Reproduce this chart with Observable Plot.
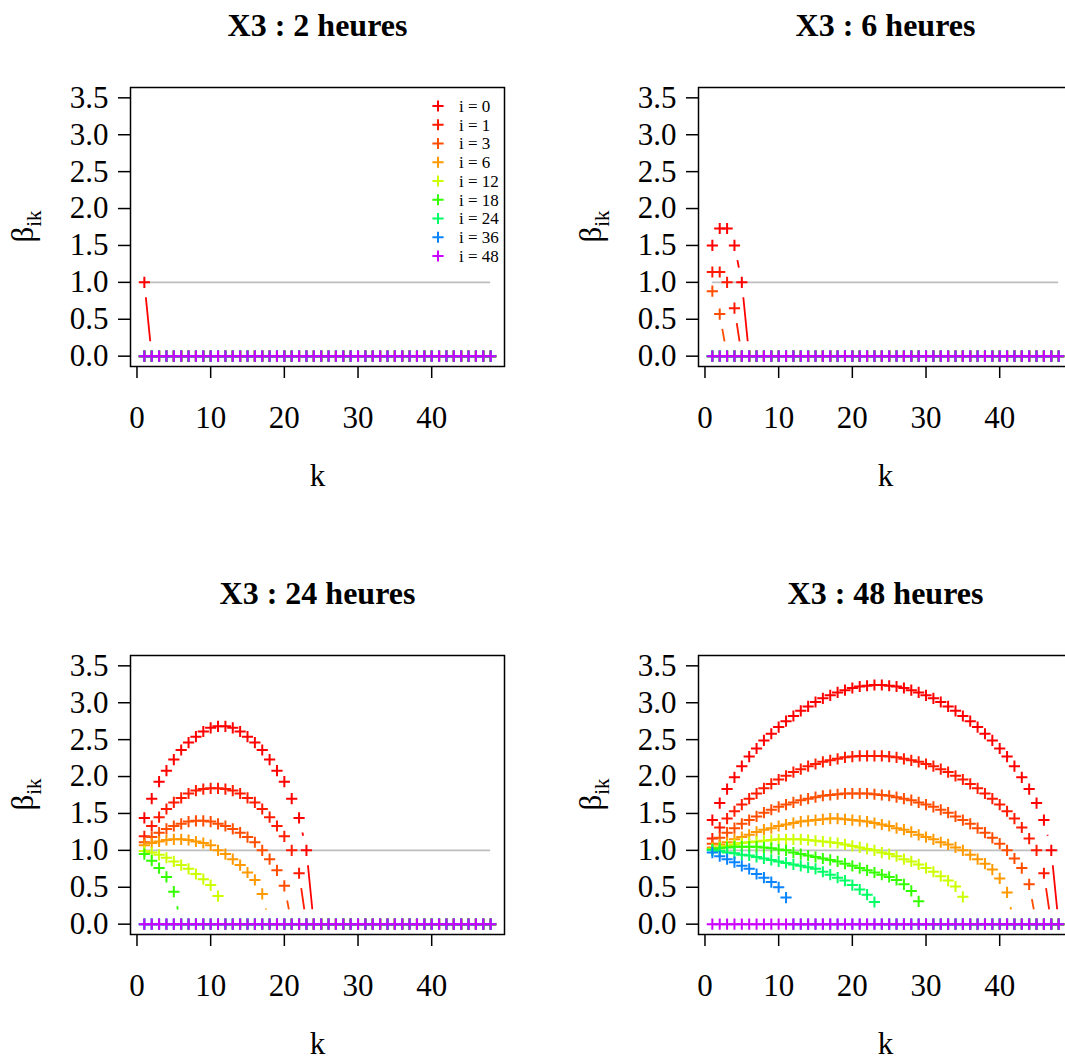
<!DOCTYPE html>
<html><head><meta charset="utf-8">
<script src="https://cdn.jsdelivr.net/npm/d3@7"></script>
<script src="https://cdn.jsdelivr.net/npm/@observablehq/plot@0.6"></script>
<style>
html,body{margin:0;padding:0;background:#fff;}
body{width:1065px;height:1058px;overflow:hidden;position:relative;}
#wrap{position:absolute;left:0;top:0;width:1136px;height:1136px;}
.panel{position:absolute;width:568px;height:568px;}
</style></head><body><div id="wrap"></div>
<script>
// ---------- data ----------
const ks = [1,2,3,4,5,6,7,8,9,10,11,12,13,14,15,16,17,18,19,20,21,22,23,24,25,26,27,28,29,30,31,32,33,34,35,36,37,38,39,40,41,42,43,44,45,46,47,48];
const xTicks = [0,10,20,30,40];
const yTicks = [0,0.5,1,1.5,2,2.5,3,3.5];
const iLabels = ["i = 0","i = 1","i = 3","i = 6","i = 12","i = 18","i = 24","i = 36","i = 48"];
const seriesColors = ["#FF0000","#FF1A00","#FF4D00","#FF9900","#CCFF00","#33FF00","#00FF66","#0A84FF","#CC00FF"];
const panelTitles = ["X3 : 2 heures","X3 : 6 heures","X3 : 24 heures","X3 : 48 heures"];
const refLine = 1;

const zeros48 = [0,0,0,0,0,0,0,0,0,0, 0,0,0,0,0,0,0,0,0,0, 0,0,0,0,0,0,0,0,0,0, 0,0,0,0,0,0,0,0,0,0, 0,0,0,0,0,0,0,0];

// 2 heures
const h2_i0 = [1.00, 0,0,0,0,0,0,0,0,0,0, 0,0,0,0,0,0,0,0,0,0, 0,0,0,0,0,0,0,0,0,0, 0,0,0,0,0,0,0,0,0,0, 0,0,0,0,0,0,0];

// 6 heures
const h6_i0 = [1.50,1.73,1.73,1.50,1.00, 0,0,0,0,0,0,0,0,0,0, 0,0,0,0,0,0,0,0,0,0, 0,0,0,0,0,0,0,0,0,0, 0,0,0,0,0,0,0,0,0,0, 0,0,0];
const h6_i1 = [1.14,1.14,1.00,0.65, 0,0,0,0,0,0,0,0,0,0, 0,0,0,0,0,0,0,0,0,0, 0,0,0,0,0,0,0,0,0,0, 0,0,0,0,0,0,0,0,0,0, 0,0,0,0];
const h6_i3 = [0.88,0.57, 0,0,0,0,0,0,0,0,0,0, 0,0,0,0,0,0,0,0,0,0, 0,0,0,0,0,0,0,0,0,0, 0,0,0,0,0,0,0,0,0,0, 0,0,0,0,0,0];

// 24 heures
const h24_i0 = [1.44,1.70,1.93,2.08,2.23,2.36,2.46,2.54,2.61,2.66,2.68,2.68,2.66,2.61,2.54,2.46,2.36,2.23,2.08,1.93,1.70,1.44,1.00,
  0,0,0,0,0,0,0,0,0,0, 0,0,0,0,0,0,0,0,0,0, 0,0,0,0,0];
const h24_i1 = [1.19,1.33,1.45,1.56,1.65,1.71,1.77,1.81,1.83,1.84,1.84,1.83,1.81,1.77,1.71,1.65,1.56,1.45,1.33,1.19,1.00,0.69,
  0,0,0,0,0,0,0,0,0,0, 0,0,0,0,0,0,0,0,0,0, 0,0,0,0,0,0];
const h24_i3 = [1.11,1.18,1.24,1.29,1.33,1.36,1.39,1.40,1.40,1.39,1.36,1.33,1.29,1.24,1.18,1.11,1.00,0.88,0.73,0.52,
  0,0,0,0,0,0,0,0,0,0, 0,0,0,0,0,0,0,0,0,0, 0,0,0,0,0,0,0,0];
const h24_i6 = [1.07,1.10,1.12,1.14,1.15,1.15,1.14,1.12,1.10,1.07,1.00,0.95,0.88,0.80,0.70,0.60,0.41,
  0,0,0,0,0,0,0,0,0,0, 0,0,0,0,0,0,0,0,0,0, 0,0,0,0,0,0,0,0,0,0, 0];
const h24_i12 = [0.99,0.97,0.94,0.90,0.85,0.80,0.75,0.68,0.61,0.53,0.38,
  0,0,0,0,0,0,0,0,0,0, 0,0,0,0,0,0,0,0,0,0, 0,0,0,0,0,0,0,0,0,0, 0,0,0,0,0,0,0];
const h24_i18 = [0.95,0.86,0.76,0.64,0.44,
  0,0,0,0,0,0,0,0,0,0, 0,0,0,0,0,0,0,0,0,0, 0,0,0,0,0,0,0,0,0,0, 0,0,0,0,0,0,0,0,0,0, 0,0,0];

// 48 heures
const h48_i0 = [1.41,1.64,1.83,1.99,2.14,2.27,2.38,2.49,2.58,2.67,2.75,2.82,2.89,2.95,3.01,3.06,3.10,3.14,3.17,3.20,3.22,3.23,3.24,
  3.24,3.23,3.22,3.20,3.17,3.14,3.10,3.06,3.01,2.95,2.89,2.82,2.75,2.67,2.58,2.49,2.38,2.27,2.14,1.99,1.83,1.64,1.41,1.00, 0];
const h48_i1 = [1.16,1.31,1.43,1.53,1.62,1.70,1.77,1.84,1.90,1.96,2.01,2.06,2.10,2.14,2.17,2.20,2.22,2.24,2.26,2.27,2.28,2.28,
  2.28,2.28,2.27,2.26,2.24,2.22,2.20,2.17,2.14,2.10,2.06,2.01,1.96,1.90,1.84,1.77,1.70,1.62,1.53,1.43,1.31,1.16,1.00,0.69, 0,0];
const h48_i3 = [1.09,1.17,1.24,1.30,1.36,1.41,1.46,1.51,1.55,1.59,1.62,1.65,1.68,1.70,1.72,1.74,1.75,1.76,1.77,1.77,
  1.77,1.77,1.76,1.75,1.74,1.72,1.70,1.68,1.65,1.62,1.59,1.55,1.51,1.46,1.41,1.36,1.30,1.24,1.17,1.09,1.00,0.89,0.76,0.54, 0,0,0,0];
const h48_i6 = [1.04,1.08,1.11,1.15,1.18,1.21,1.25,1.28,1.30,1.33,1.35,1.37,1.39,1.40,1.41,1.42,1.43,
  1.43,1.42,1.41,1.40,1.39,1.37,1.35,1.33,1.30,1.28,1.25,1.21,1.18,1.15,1.11,1.08,1.04,1.00,0.94,0.88,0.82,0.74,0.62,0.43, 0,0,0,0,0,0,0];
const h48_i12 = [1.02,1.04,1.06,1.08,1.10,1.11,1.12,1.13,1.14,1.15,1.15,
  1.15,1.15,1.14,1.13,1.12,1.11,1.10,1.08,1.06,1.04,1.02,1.00,0.97,0.95,0.92,0.88,0.85,0.81,0.76,0.71,0.65,0.59,0.51,0.37,
  0,0,0,0,0,0,0,0,0,0, 0,0,0];
const h48_i18 = [1.01,1.03,1.04,1.05,1.05,1.05,1.05,1.04,1.03,1.01,1.00,
  0.97,0.95,0.93,0.91,0.89,0.87,0.85,0.82,0.79,0.76,0.73,0.70,0.67,0.64,0.60,0.54,0.45,0.31,
  0,0,0,0,0,0,0,0,0,0, 0,0,0,0,0,0,0,0,0];
const h48_i24 = [1.00,0.99,0.97,0.96,0.94,0.93,0.91,0.89,0.87,0.85,0.83,0.81,0.79,0.77,0.75,0.71,0.67,0.63,0.59,0.53,0.47,0.40,0.30,
  0,0,0,0,0,0,0,0,0,0, 0,0,0,0,0,0,0,0,0,0, 0,0,0,0,0];
const h48_i36 = [0.97,0.92,0.88,0.84,0.79,0.75,0.68,0.63,0.57,0.50,0.36,
  0,0,0,0,0,0,0,0,0,0, 0,0,0,0,0,0,0,0,0,0, 0,0,0,0,0,0,0,0,0,0, 0,0,0,0,0,0,0];

const Z = zeros48;
const panelSeries = [
  [h2_i0, Z, Z, Z, Z, Z, Z, Z, Z],
  [h6_i0, h6_i1, h6_i3, Z, Z, Z, Z, Z, Z],
  [h24_i0, h24_i1, h24_i3, h24_i6, h24_i12, h24_i18, Z, Z, Z],
  [h48_i0, h48_i1, h48_i3, h48_i6, h48_i12, h48_i18, h48_i24, h48_i36, Z]
];
panelSeries.forEach((p, pi) => p.forEach((s, si) => { if (s.length !== 48) throw new Error("bad length panel " + pi + " series " + si + ": " + s.length); }));

// ---------- layout ----------
const W = 568, H = 568;
const ML = 130, MR = 64, MT = 87, MB = 202;
const XD = [-0.88, 49.88], YD = [-0.14, 3.64];
const sx = (W - ML - MR) / (XD[1] - XD[0]);
const sy = (H - MT - MB) / (YD[1] - YD[0]);
const GAP = 15; // R type="b" gap in px
const FONT = "Liberation Serif, Times New Roman, Times, serif";
const FS = 31;
const ARM = 5.6;
const SW = 2;
const plusSymbol = {draw(ctx) { ctx.moveTo(-ARM, 0); ctx.lineTo(ARM, 0); ctx.moveTo(0, -ARM); ctx.lineTo(0, ARM); }};

function segments(vals) {
  const out = [];
  for (let j = 0; j < vals.length - 1; j++) {
    const dk = ks[j + 1] - ks[j], dv = vals[j + 1] - vals[j];
    const L = Math.hypot(sx * dk, sy * dv);
    if (L > 2 * GAP) {
      const t = GAP / L;
      out.push({x1: ks[j] + t * dk, y1: vals[j] + t * dv, x2: ks[j + 1] - t * dk, y2: vals[j + 1] - t * dv});
    }
  }
  return out;
}

const wrap = document.getElementById("wrap");
panelSeries.forEach((series, pi) => {
  const marks = [
    Plot.ruleY([refLine], {x1: ks[0], x2: ks[ks.length - 1], stroke: "#BEBEBE", strokeWidth: 1.8})
  ];
  series.forEach((vals, si) => {
    const pts = ks.map((k, j) => ({k, v: vals[j]}));
    marks.push(Plot.link(segments(vals), {x1: "x1", y1: "y1", x2: "x2", y2: "y2", stroke: seriesColors[si], strokeWidth: 1.8}));
    marks.push(Plot.dot(pts, {x: "k", y: "v", symbol: plusSymbol, r: 4, fill: "none", stroke: seriesColors[si], strokeWidth: SW}));
  });
  marks.push(
    Plot.frame({stroke: "black", strokeWidth: 1.5}),
    Plot.axisY(yTicks, {tickSize: 12, tickPadding: 10, tickFormat: d3.format(".1f"), fontSize: FS, label: null, strokeWidth: 1.5}),
    Plot.axisX(xTicks, {tickSize: 12, tickPadding: 27, fontSize: FS, label: null, strokeWidth: 1.5}),
    Plot.text([panelTitles[pi]], {frameAnchor: "top", lineAnchor: "middle", dy: -62, fontSize: 32, fontWeight: "bold", text: d => d}),
    Plot.text(["k"], {frameAnchor: "bottom", lineAnchor: "middle", dy: 110, fontSize: FS, text: d => d})
  );
  const svg = Plot.plot({
    width: W, height: H,
    marginLeft: ML, marginRight: MR, marginTop: MT, marginBottom: MB,
    x: {domain: XD}, y: {domain: YD},
    style: {fontFamily: FONT, fontSize: FS + "px", color: "black", background: "white", overflow: "visible"},
    marks
  });
  // y axis label beta_ik
  const s = d3.select(svg);
  const yl = s.append("text")
    .attr("transform", `translate(33,${(MT + H - MB) / 2}) rotate(-90)`)
    .attr("text-anchor", "middle").style("font-family", FONT).style("font-size", FS + "px").attr("fill", "black");
  yl.append("tspan").text("β");
  yl.append("tspan").style("font-size", "21px").attr("dy", 8).text("ik");
  // legend on first panel
  if (pi === 0) {
    const lg = s.append("g");
    iLabels.forEach((lab, j) => {
      const g = lg.append("g").attr("transform", `translate(438,${106 + 18.75 * j})`);
      g.append("path").attr("d", `M${-ARM},0H${ARM}M0,${-ARM}V${ARM}`).attr("stroke", seriesColors[j]).attr("stroke-width", SW).attr("fill", "none");
      g.append("text").attr("x", 21).attr("dy", "0.34em").attr("text-anchor", "start")
        .style("font-family", FONT).style("font-size", "17px").attr("fill", "black").text(lab);
    });
  }
  const div = document.createElement("div");
  div.className = "panel";
  div.style.left = (pi % 2) * W + "px";
  div.style.top = Math.floor(pi / 2) * H + "px";
  div.appendChild(svg);
  wrap.appendChild(div);
});
</script></body></html>
